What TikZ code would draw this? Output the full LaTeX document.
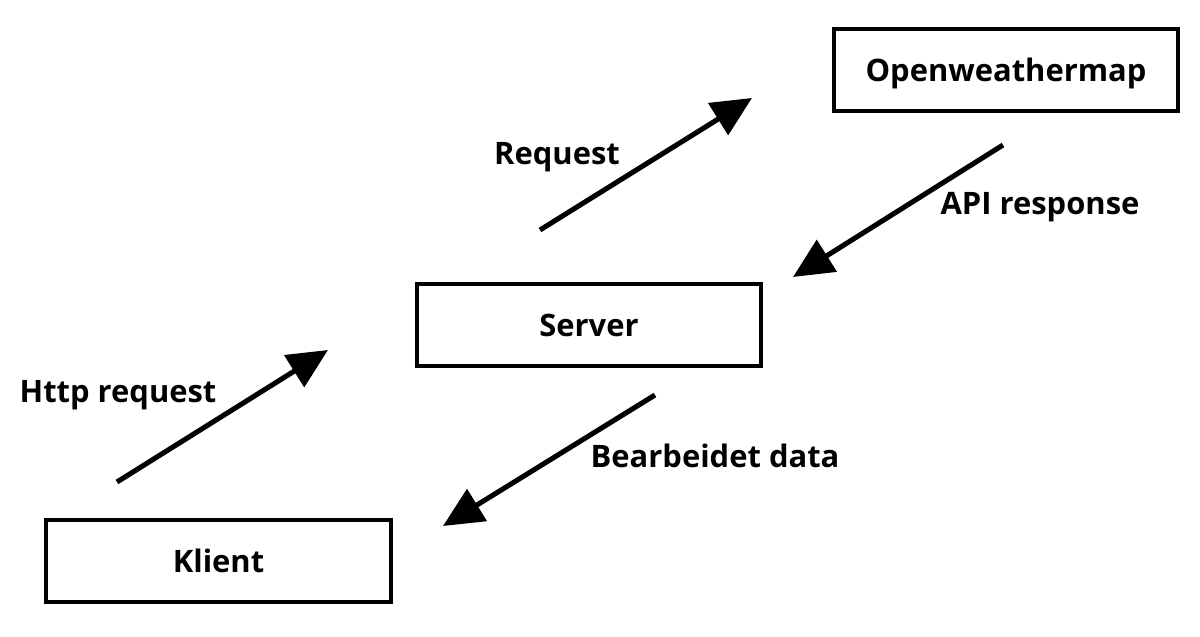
\documentclass[tikz,border=0pt]{standalone}
\usepackage{fontspec}
\setmainfont{Open Sans}
\usetikzlibrary{arrows.meta}

\begin{document}
\begin{tikzpicture}[
  box/.style={draw=black, line width=2.85pt, minimum width=8.62cm, minimum height=2.07cm,
    text depth=0pt, font=\fontsize{22}{26}\selectfont\bfseries},
  lbl/.style={anchor=base, font=\fontsize{22}{26}\selectfont\bfseries},
  flow/.style={-{Triangle[length=1cm,width=0.92cm]}, line width=3.6pt}
]
\useasboundingbox (0,0) rectangle (30,15.9);

% Boxes
\node[box] (weather) at (25.15,14.15) {Openweathermap};
\node[box] (server) at (14.725,7.775) {Server};
\node[box] (client) at (5.4625,1.875) {Klient};

% Arrow ends
\coordinate (reqA) at (13.5,10.15);
\coordinate (reqB) at (18.8,13.45);
\coordinate (apiA) at (25.075,12.275);
\coordinate (apiB) at (19.825,8.975);
\coordinate (httpA) at (2.925,3.85);
\coordinate (httpB) at (8.2,7.15);
\coordinate (dataA) at (16.375,6.025);
\coordinate (dataB) at (11.075,2.75);

% Arrows
\draw[flow] (reqA) -- (reqB);
\draw[flow] (apiA) -- (apiB);
\draw[flow] (httpA) -- (httpB);
\draw[flow] (dataA) -- (dataB);

% Labels
\node[lbl] (reqlbl) at (13.925,11.775) {Request};
\node[lbl] (apilbl) at (26.0,10.525) {API response};
\node[lbl] (httplbl) at (2.95,5.85) {Http request};
\node[lbl] (datalbl) at (17.875,4.225) {Bearbeidet data};
\end{tikzpicture}
\end{document}
